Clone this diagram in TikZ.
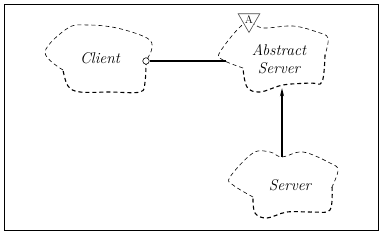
\documentclass[tikz,border=0pt]{standalone}
\usetikzlibrary{arrows.meta,calc,positioning,shapes.geometric}

\begin{document}
\begin{tikzpicture}[
      x=1pt, y=-1pt,
      font=\fontsize{15.5}{17.5}\selectfont\itshape,
      classname/.style={ellipse, align=center, inner sep=0pt},
      outline/.style={draw=black, line width=0.6pt, dash pattern=on 4pt off 3pt},
      heavy/.style={outline, line width=1.1pt},
      iface/.style={circle, draw, fill=white, line width=0.6pt,
        minimum size=6.5pt, inner sep=0pt},
      adornment/.style={regular polygon, regular polygon sides=3,
        shape border rotate=180, draw=black!70, line width=0.6pt,
        minimum size=25pt, inner sep=0pt, font=\fontsize{11}{11}\selectfont\upshape},
      link/.style={line width=1.2pt},
      arrow/.style={link, -{Stealth[length=8pt, width=4pt]}}
    ]
    \useasboundingbox (0,0) rectangle (382,235);
    \draw[line width=1pt] (4,5) rectangle (378,230);

    % classes
    \node[classname, minimum width=104pt, minimum height=60pt] (client) at (100,58) {Client};
    \node[classname, minimum width=106pt, minimum height=58pt] (abstract) at (279,59) {Abstract\\Server};
    \node[classname, minimum width=104pt, minimum height=56pt] (server) at (290,185) {Server};

    % cloud outlines
    \draw[outline] plot[smooth, tension=0.6] coordinates {(63,70) (45,52) (68,28) (88,25) (117,28) (147,38) (152,48) (146,61)};
    \draw[heavy] plot[smooth, tension=0.6] coordinates {(146,61) (145,82) (140,92) (110,92) (80,92) (68,86) (63,70)};
    \draw[outline] plot[smooth, tension=0.6] coordinates {(243,68) (223,60) (220,52) (245,23) (263,28) (293,26) (317,32) (328,38) (325,55)};
    \draw[heavy] plot[smooth, tension=0.6] coordinates {(325,55) (322,82) (310,83) (283,85) (260,92) (247,87) (243,68)};
    \draw[outline] plot[smooth, tension=0.6] coordinates {(253,197) (233,185) (230,177) (253,153) (270,152) (282,157) (303,152) (330,163) (338,170) (332,187)};
    \draw[heavy] plot[smooth, tension=0.6] coordinates {(332,187) (330,210) (313,212) (287,212) (267,218) (255,213) (253,197)};

    % abstract marker
    \node[adornment, fill=white] (mark) at (249,20) {A};

    % relations
    \node[iface] (use) at (146,61) {};
    \draw[link] (use.east) -- (use.east -| abstract.west);
    \draw[arrow] ([xshift=-8pt]server.north) -- ([xshift=-8pt]server.north |- abstract.south);
  \end{tikzpicture}
\end{document}
